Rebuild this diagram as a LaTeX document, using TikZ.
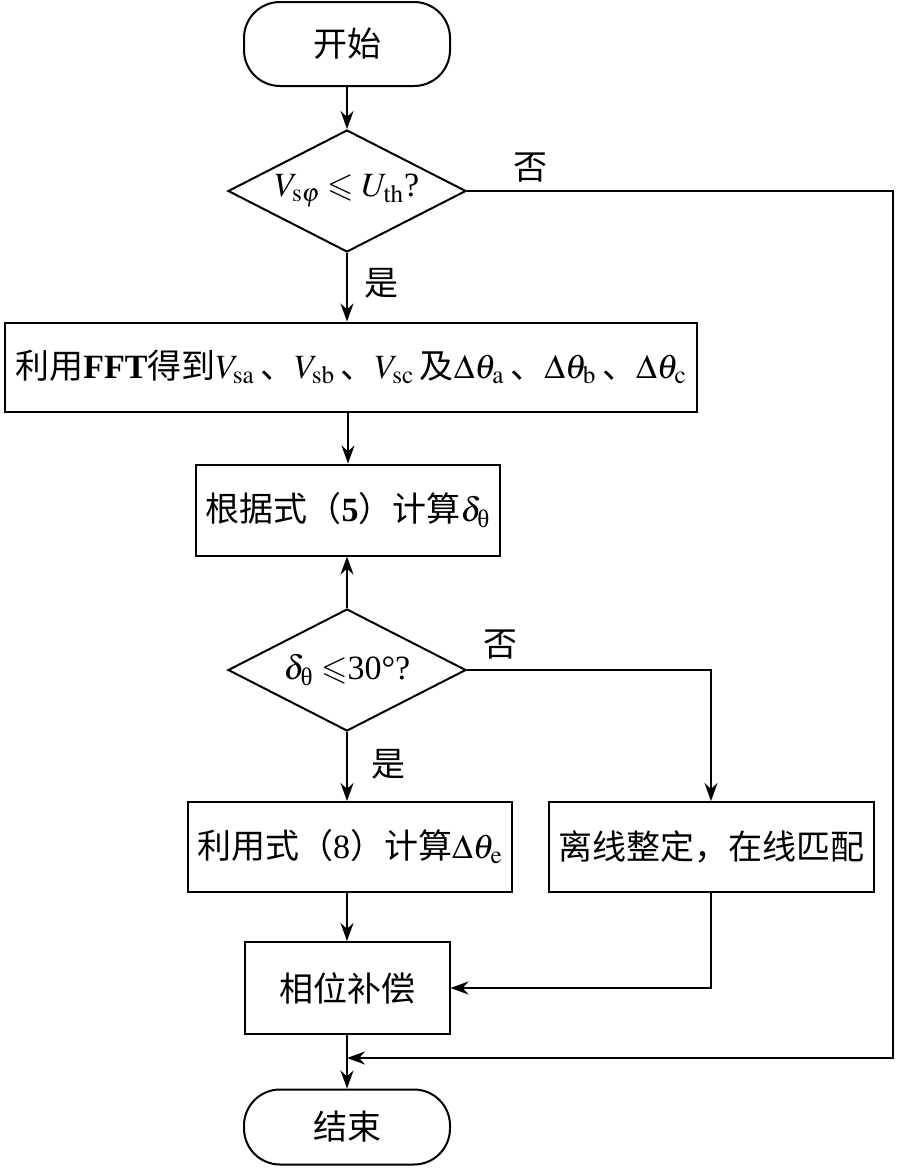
\documentclass[tikz,border=0pt]{standalone}
\usepackage{mathptmx}
\usepackage{amsmath,amssymb}
\usepackage{fontspec}
\setmainfont{Liberation Serif}
\newfontfamily\cjk{Noto Sans CJK SC}
\newcommand{\zh}[1]{{\cjk #1}}
\usetikzlibrary{arrows.meta,shapes.geometric}
\tikzset{%
  term/.style={rectangle,rounded corners=18pt,draw,line width=1pt,minimum width=103pt,inner sep=0pt},
  proc/.style={rectangle,draw,line width=1pt,inner sep=0pt},
  test/.style={diamond,draw,line width=1pt,aspect=1.95,minimum width=119pt,minimum height=61pt,inner sep=0pt},
  flow/.style={-{Stealth[length=9pt,width=6.5pt]},line width=1pt},
  tag/.style={inner sep=0pt}%
}
\begin{document}
\begin{tikzpicture}[x=0.5pt,y=-0.5pt,font=\fontsize{17}{20}\selectfont]
      \useasboundingbox (0,0) rectangle (899,1173);

      \node (start) [term,minimum height=42pt] at (347,44) {\zh{开始}};
      \node (test_v) [test] at (347,191) {$V_{\mathrm{s}\varphi}\leqslant U_{\mathrm{th}}$?};
      \node (fft) [proc,minimum width=346pt,minimum height=44.5pt] at (351,367) {\zh{利用}\textbf{FFT}\zh{得到}$V_{\mathrm{sa}}$\,\zh{、}$V_{\mathrm{sb}}$\,\zh{、}$V_{\mathrm{sc}}$\,\zh{及}$\Delta\theta_{\mathrm{a}}$\,\zh{、}$\Delta\theta_{\mathrm{b}}$\,\zh{、}$\Delta\theta_{\mathrm{c}}$};
      \node (calc_d) [proc,minimum width=152pt,minimum height=45.5pt] at (348,510) {\zh{根据式（}\textbf{5}\zh{）计算}$\delta_{\text{θ}}$};
      \node (test_d) [test] at (347,670) {$\delta_{\text{θ}}\leqslant$30°?};
      \node (calc_e) [proc,minimum width=162pt,minimum height=45pt] at (350,847) {\zh{利用式（}8\zh{）计算}$\Delta\theta_{\mathrm{e}}$};
      \node (offline) [proc,minimum width=162.5pt,minimum height=45pt] at (711,847) {\zh{离线整定，在线匹配}};
      \node (comp) [proc,minimum width=102.5pt,minimum height=46pt] at (347,988) {\zh{相位补偿}};
      \node (stop) [term,minimum height=37.5pt] at (347,1127) {\zh{结束}};

      \node (yes_v) [tag] at (381,283) {\zh{是}};
      \node (no_v) [tag] at (530,168) {\zh{否}};
      \node (yes_d) [tag] at (388,764) {\zh{是}};
      \node (no_d) [tag] at (500,645) {\zh{否}};

      \coordinate (merge) at (347,1058);
      \coordinate (loop_r) at (893,1058);

      \draw[flow] (start) -- (test_v);
      \draw[flow] (test_v.south) -- (test_v.south |- fft.north);
      \draw[flow] (calc_d.north |- fft.south) -- (calc_d.north);
      \draw[flow] (test_d.north) -- (test_d.north |- calc_d.south);
      \draw[flow] (test_d.south) -- (test_d.south |- calc_e.north);
      \draw[flow] (test_d.east) -| (offline.north);
      \draw[flow] (comp.north |- calc_e.south) -- (comp.north);
      \draw[flow] (offline.south) |- (comp.east);
      \draw[flow] (comp) -- (stop);
      \draw[flow] (test_v.east) -| (loop_r) -- (merge);
\end{tikzpicture}
\end{document}
